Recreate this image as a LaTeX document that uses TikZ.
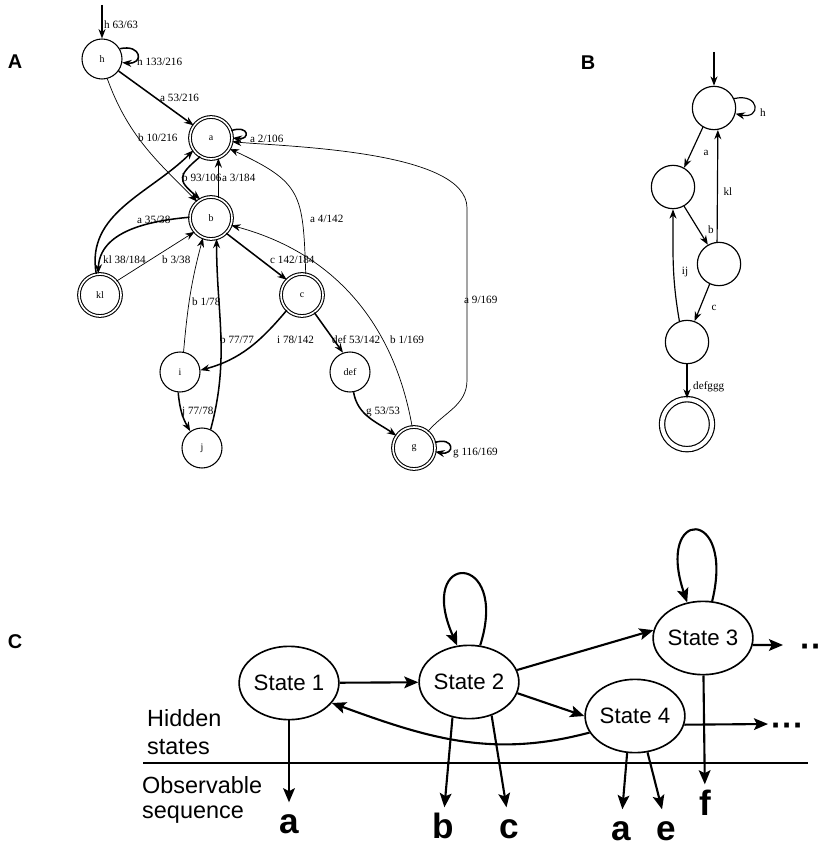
\documentclass[tikz,border=0pt]{standalone}
\usepackage{fontspec}
\setmainfont{Liberation Serif}
\setsansfont{Liberation Sans}
\usepackage{tikz}
\usetikzlibrary{shapes.geometric,arrows.meta,positioning}

\begin{document}
\begin{tikzpicture}[x=0.03cm, y=0.03cm, >={Stealth[length=8pt,width=6pt]}]

    % Define block styles
    \tikzstyle{astate} = [draw, circle, line width=0.9pt, minimum size=1.2cm, inner sep=0pt, font=\fontsize{8.5}{9}\selectfont]
    \tikzstyle{afinal} = [astate, double, double distance=1.4pt, minimum size=1.26cm]
    \tikzstyle{bstate} = [draw, circle, line width=1pt, minimum size=1.3cm, inner sep=0pt]
    \tikzstyle{hstate} = [draw, ellipse, line width=1.4pt, minimum width=2.88cm, minimum height=2.2cm, inner sep=0pt, font=\sffamily\fontsize{19}{22}\selectfont]
    \tikzstyle{elabel} = [anchor=west, inner sep=0pt, font=\fontsize{9.5}{11}\selectfont]
    \tikzstyle{obsletter} = [anchor=base, inner sep=0pt, text height=26pt, font=\sffamily\bfseries\fontsize{30}{32}\selectfont]
    \tikzstyle{more} = [anchor=mid west, inner sep=0pt, font=\sffamily\bfseries\fontsize{28}{28}\selectfont]
    \tikzstyle{panel} = [font=\sffamily\bfseries\fontsize{17}{19}\selectfont]
    \tikzstyle{fineedge} = [->, line width=0.6pt]
    \tikzstyle{heavyedge} = [->, line width=1.3pt]
    \tikzstyle{bedge} = [->, line width=1pt]
    \tikzstyle{flow} = [-{Stealth[length=12pt,width=10pt,inset=2.5pt]}, line width=1.8pt]

    \useasboundingbox (0,0) rectangle (823,-846);

    \node[panel] (pA) at (15,-62) {A};
    \node[panel] (pB) at (588,-63) {B};
    \node[panel] (pC) at (15,-642) {C};

    % Panel A: states
    \node[astate] (h) at (102,-59) {h};
    \node[afinal] (a) at (211,-138) {a};
    \node[afinal] (b) at (211,-218) {b};
    \node[afinal] (kl) at (100,-295) {kl};
    \node[afinal] (c) at (302,-295) {c};
    \node[astate] (i) at (180,-372) {i};
    \node[astate] (j) at (202,-448) {j};
    \node[astate] (def) at (350,-372) {def};
    \node[afinal] (g) at (414,-448) {g};
    \coordinate (hin) at (102,-5);
    \coordinate (gr1) at (467,-380);
    \coordinate (gr2) at (467,-208);

    % Panel A: transitions
    \draw[heavyedge] (hin) -- (h);
    \draw[heavyedge] (h.30) .. controls +(22,5) and +(22,-2) .. (h.-10);
    \draw[heavyedge] (h) -- (a);
    \draw[fineedge] (h.-75) to[out=-70, in=135] (b.130);
    \draw[heavyedge] (a.20) .. controls +(18,6) and +(18,-2) .. (a.0);
    \draw[heavyedge] (a.-120) to[out=-140, in=140, looseness=1.8] (b.120);
    \draw[heavyedge] (b.70) -- (a.-70);
    \draw[heavyedge] (kl.100) to[out=100, in=-135] (a.-145);
    \draw[heavyedge] (b.178) to[out=185, in=88] (kl.95);
    \draw[fineedge] (kl.40) -- (b.-140);
    \draw[heavyedge] (b.-45) -- (c.135);
    \draw[fineedge] (c.80) to[out=92, in=-25, looseness=1.4] (a.-30);
    \draw[fineedge] (g.95) to[out=100, in=-15] (b.-20);
    \draw[fineedge] (g.50) to[out=50, in=-90] (gr1) -- (gr2) to[out=90, in=-5, looseness=0.6] (a.-10);
    \draw[heavyedge] (c.-135) to[out=-130, in=15] (i.5);
    \draw[heavyedge] (c.-55) -- (def.110);
    \draw[heavyedge] (def.-80) to[out=-80, in=145] (g.145);
    \draw[heavyedge] (g.15) .. controls +(20,6) and +(20,-4) .. (g.-10);
    \draw[fineedge] (i.80) to[out=85, in=-105] (b.-112);
    \draw[heavyedge] (j.65) to[out=75, in=-90] (b.-75);
    \draw[heavyedge] (i.-95) to[out=-85, in=120] (j.125);

    % Panel A: counts
    \node[elabel] (l1) at (104,-25) {h 63/63};
    \node[elabel] (l2) at (137,-62) {h 133/216};
    \node[elabel] (l3) at (160,-98) {a 53/216};
    \node[elabel] (l4) at (138,-138) {b 10/216};
    \node[elabel] (l5) at (250,-139) {a 2/106};
    \node[elabel] (l6) at (182,-178) {b 93/106};
    \node[elabel] (l7) at (222,-178) {a 3/184};
    \node[elabel] (l8) at (137,-220) {a 35/38};
    \node[elabel] (l9) at (103,-260) {kl 38/184};
    \node[elabel] (l10) at (162,-260) {b 3/38};
    \node[elabel] (l11) at (270,-260) {c 142/184};
    \node[elabel] (l12) at (310,-219) {a 4/142};
    \node[elabel] (l13) at (192,-302) {b 1/78};
    \node[elabel] (l14) at (220,-340) {b 77/77};
    \node[elabel] (l15) at (277,-340) {i 78/142};
    \node[elabel] (l16) at (332,-340) {def 53/142};
    \node[elabel] (l17) at (390,-340) {b 1/169};
    \node[elabel] (l18) at (464,-300) {a 9/169};
    \node[elabel] (l19) at (182,-412) {j 77/78};
    \node[elabel] (l20) at (366,-412) {g 53/53};
    \node[elabel] (l21) at (453,-453) {g 116/169};

    % Panel B
    \node[bstate] (q1) at (714,-108) {};
    \node[bstate] (q2) at (673,-187) {};
    \node[bstate] (q3) at (719,-264) {};
    \node[bstate] (q4) at (687,-342) {};
    \node[bstate, double, double distance=3.5pt, minimum size=1.5cm, below=1.03cm of q4] (q5) {};
    \coordinate (qin) at (714,-52);

    \draw[bedge] (qin) -- (q1);
    \draw[bedge] (q1.25) .. controls +(26,6) and +(26,-6) .. (q1.-15);
    \draw[bedge] (q1.-120) -- (q2.60);
    \draw[bedge] (q2.-60) -- (q3.120);
    \draw[bedge] (q3.95) -- (q1.-80);
    \draw[bedge] (q3.-115) -- (q4.70);
    \draw[bedge] (q4.110) to[out=100, in=-90] (q2.-90);
    \draw[bedge] (q4) -- (q5);

    \node[elabel, anchor=center] (m1) at (763,-113) {h};
    \node[elabel, anchor=center] (m2) at (706,-153) {a};
    \node[elabel, anchor=center] (m3) at (711,-230) {b};
    \node[elabel, anchor=center] (m4) at (728,-192) {kl};
    \node[elabel, anchor=center] (m5) at (685,-272) {ij};
    \node[elabel, anchor=center] (m6) at (714,-308) {c};
    \node[elabel] (m7) at (693,-387) {defggg};

    % Panel C: hidden states
    \node[hstate] (s1) at (289,-683) {State 1};
    \node[hstate] (s2) at (469,-682) {State 2};
    \node[hstate] (s3) at (703,-638) {State 3};
    \node[hstate] (s4) at (635,-716) {State 4};

    \node[more] (d3) at (800,-655) {···};
    \node[more] (d4) at (771,-734) {···};
    \coordinate (e3) at (783,-645);
    \coordinate (e4) at (768,-724);

    \draw[flow] (s1) -- (s2);
    \draw[flow] (s2.14) -- (s3.171);
    \draw[flow] (s2.-13) -- (s4.180);
    \draw[flow] (s4.200) to[out=195, in=-20] (s1.-25);
    \draw[flow] (s2.73) .. controls +(30,95) and +(-42,95) .. (s2.108);
    \draw[flow] (s3.76) .. controls +(23,95) and +(-32,95) .. (s3.114);
    \draw[flow] (s3.-8) -- (e3);
    \draw[flow] (s4.-10) -- (e4);

    % Hidden / observable divide
    \coordinate (dl) at (143,-763);
    \coordinate (dr) at (808,-763);
    \draw[line width=1.1pt] (dl) -- (dr);
    \node[anchor=north west, inner sep=0pt, align=left, font=\sffamily\fontsize{20}{24}\selectfont] (hid) at (147,-709) {Hidden\\states};
    \node[anchor=north west, inner sep=0pt, align=left, font=\sffamily\fontsize{20}{21.5}\selectfont] (seq) at (142,-776) {Observable\\sequence};

    % Panel C: emitted symbols
    \node[obsletter] (o1) at (289,-833) {a};
    \node[obsletter] (o2) at (443,-838) {b};
    \node[obsletter] (o3) at (509,-838) {c};
    \node[obsletter] (o4) at (621,-840) {a};
    \node[obsletter] (o5) at (666,-840) {e};
    \node[obsletter] (o6) at (705,-815) {f};

    \draw[flow] (s1) -- (o1);
    \draw[flow] (s2.-115) -- (o2);
    \draw[flow] (s2.-56) -- (o3);
    \draw[flow] (s4.-102) -- (o4);
    \draw[flow] (s4.-71) -- (o5);
    \draw[flow] (s3) -- (o6);

\end{tikzpicture}
\end{document}
